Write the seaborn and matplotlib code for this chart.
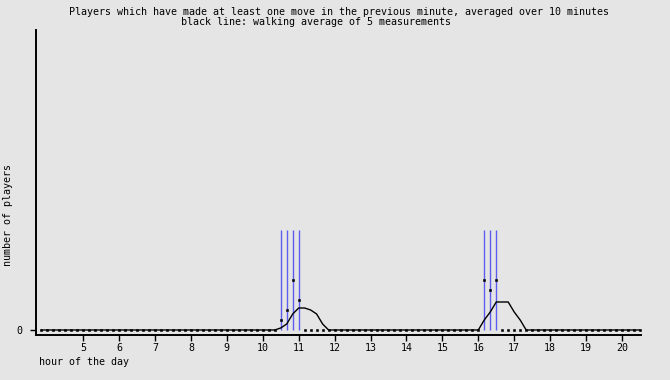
import numpy as np
import pandas as pd
import matplotlib
matplotlib.use("Agg")
import matplotlib.pyplot as plt
import seaborn as sns

# measurements every 10 minutes, first one at 3:50
first_hour = 3 + 50 / 60
step_minutes = 10
players = [
    0,                    # 3:50
    0, 0, 0, 0, 0, 0,     # 4
    0, 0, 0, 0, 0, 0,     # 5
    0, 0, 0, 0, 0, 0,     # 6
    0, 0, 0, 0, 0, 0,     # 7
    0, 0, 0, 0, 0, 0,     # 8
    0, 0, 0, 0, 0, 0,     # 9
    0, 0, 0, 1, 2, 5,     # 10
    3, 0, 0, 0, 0, 0,     # 11
    0, 0, 0, 0, 0, 0,     # 12
    0, 0, 0, 0, 0, 0,     # 13
    0, 0, 0, 0, 0, 0,     # 14
    0, 0, 0, 0, 0, 0,     # 15
    0, 5, 4, 5, 0, 0,     # 16
    0, 0, 0, 0, 0, 0,     # 17
    0, 0, 0, 0, 0, 0,     # 18
    0, 0, 0, 0, 0, 0,     # 19
    0, 0, 0, 0,           # 20:00 - 20:30
]
window = 5
marker_height = 10
x_ticks = list(range(5, 21))
y_ticks = [0]

hours = first_hour + np.arange(len(players)) * step_minutes / 60
df = pd.DataFrame({"hour": hours, "players": players})
df["avg"] = df["players"].rolling(window, min_periods=1).sum() / window
active = df[df["players"] > 0]

sns.set_style("white")
plt.rcParams["font.family"] = ["DejaVu Sans Mono", "DejaVu Sans"]
plt.rcParams["text.color"] = "black"
plt.rcParams["xtick.labelcolor"] = "black"
plt.rcParams["ytick.labelcolor"] = "black"
bg = "#e5e5e5"

fig = plt.figure(figsize=(6.7, 3.8), dpi=100, facecolor=bg)
ax = fig.add_axes([36 / 670, 1 - 335 / 380, (641 - 36) / 670, (335 - 30) / 380])
ax.set_facecolor(bg)

ax.vlines(active["hour"], 0, marker_height, color="#5c5cf0", lw=1.0, zorder=1)
sns.lineplot(data=df, x="hour", y="avg", ax=ax, color="black", lw=1.0, zorder=2)
sns.scatterplot(data=df, x="hour", y="players", ax=ax, color="black", marker="s",
                s=2.2, linewidth=0.4, edgecolor="black", zorder=3)

ax.set_xlim(3.687, 20.53)
ax.set_ylim(-0.5, 30)
ax.set_xticks(x_ticks)
ax.set_xticklabels([str(t) for t in x_ticks])
ax.set_yticks(y_ticks)
ax.set_yticklabels([str(t) for t in y_ticks])
ax.set_xlabel("")
ax.set_ylabel("")

for s in ["top", "right"]:
    ax.spines[s].set_visible(False)
for s in ["left", "bottom"]:
    ax.spines[s].set_color("black")
    ax.spines[s].set_linewidth(1.4)
ax.tick_params(axis="both", direction="out", length=4.3, width=1.0, color="black",
               labelcolor="black", labelsize=7.2, pad=1.5, bottom=True, left=True)
ax.tick_params(axis="y", pad=5.5)

fig.text(339 / 670, 1 - 12 / 380,
         "Players which have made at least one move in the previous minute, averaged over 10 minutes",
         ha="center", va="center", fontsize=7.2, color="black")
fig.text(316 / 670, 1 - 22 / 380, "black line: walking average of 5 measurements",
         ha="center", va="center", fontsize=7.2, color="black")
fig.text(39 / 670, 1 - 362 / 380, "hour of the day", ha="left", va="center",
         fontsize=7.2, color="black")
fig.text(8 / 670, 1 - 215 / 380, "number of players", ha="center", va="center",
         rotation=90, fontsize=7.2, color="black")

fig.savefig("out.png", dpi=100, facecolor=bg)
